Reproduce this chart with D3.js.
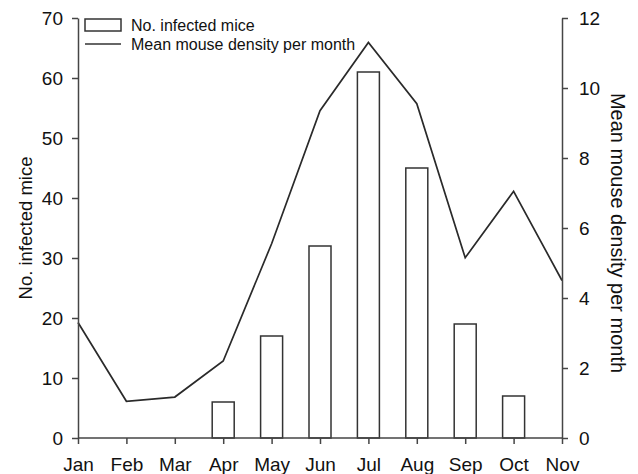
<!DOCTYPE html>
<html>
<head>
<meta charset="utf-8">
<script src="https://cdn.jsdelivr.net/npm/d3@7"></script>
<style>
  html, body { margin: 0; padding: 0; background: #fff; }
  svg { display: block; font-family: "Liberation Sans", Arial, sans-serif; }
</style>
</head>
<body>
<svg id="chart" width="638" height="474"></svg>
<script>
// Monthly data
const months = ["Jan", "Feb", "Mar", "Apr", "May", "Jun", "Jul", "Aug", "Sep", "Oct", "Nov"];
const infectedMice = [0, 0, 0, 6, 17, 32, 61, 45, 19, 7, 0];
const meanDensity = [3.3, 1.05, 1.17, 2.2, 5.55, 9.35, 11.3, 9.55, 5.15, 7.05, 4.5];
const leftTicks = [0, 10, 20, 30, 40, 50, 60, 70];
const rightTicks = [0, 2, 4, 6, 8, 10, 12];

const svg = d3.select("#chart");
const margin = { left: 78, right: 638 - 562, top: 18, bottom: 474 - 438 };
const width = 638 - margin.left - margin.right;
const height = 474 - margin.top - margin.bottom;
const axisColor = "#454545";
const font = "'Liberation Sans', Arial, sans-serif";

const g = svg.append("g").attr("transform", `translate(${margin.left},${margin.top})`);

const x = d3.scalePoint().domain(months).range([0, width]);
const yLeft = d3.scaleLinear().domain([0, 70]).range([height, 0]);
const yRight = d3.scaleLinear().domain([0, 12]).range([height, 0]);

// Bars: infected mice
const barW = 22;
const barData = months.map((m, i) => ({ m, v: infectedMice[i] })).filter(d => d.v > 0);
g.selectAll("rect.bar").data(barData).enter().append("rect")
  .attr("class", "bar")
  .attr("x", d => x(d.m) - barW / 2)
  .attr("y", d => yLeft(d.v))
  .attr("width", barW)
  .attr("height", d => yLeft(0) - yLeft(d.v))
  .attr("fill", "#fff")
  .attr("stroke", "#333")
  .attr("stroke-width", 1.5);

// Line: mean density
const line = d3.line().x((d, i) => x(months[i])).y(d => yRight(d));
g.append("path").datum(meanDensity)
  .attr("d", line)
  .attr("fill", "none")
  .attr("stroke", "#2a2a2a")
  .attr("stroke-width", 1.7)
  .attr("stroke-linejoin", "miter");

function styleAxis(sel) {
  sel.selectAll("path.domain").attr("stroke", axisColor).attr("stroke-width", 1.5);
  sel.selectAll(".tick line").attr("stroke", axisColor).attr("stroke-width", 1.5);
  sel.selectAll(".tick text").attr("fill", "#111")
    .attr("font-size", 19).attr("font-family", font)
    .style("font-size", "19px").style("font-family", font);
}

// Left axis
const axL = g.append("g")
  .call(d3.axisLeft(yLeft).tickValues(leftTicks).tickSize(6).tickSizeOuter(0).tickPadding(9));
styleAxis(axL);

// Right axis
const axR = g.append("g").attr("transform", `translate(${width},0)`)
  .call(d3.axisRight(yRight).tickValues(rightTicks).tickSize(6).tickSizeOuter(0).tickPadding(11));
styleAxis(axR);

// Bottom axis
const axB = g.append("g").attr("transform", `translate(0,${height})`)
  .call(d3.axisBottom(x).tickSize(6).tickSizeOuter(0).tickPadding(14));
styleAxis(axB);
axB.select("path.domain").attr("d", `M0,0H${width}`);

// Axis titles
svg.append("text")
  .attr("transform", `translate(32,${margin.top + height / 2}) rotate(-90)`)
  .attr("text-anchor", "middle")
  .style("font-size", "18.5px").attr("fill", "#111")
  .text("No. infected mice");

svg.append("text")
  .attr("transform", `translate(611,233) rotate(90)`)
  .attr("text-anchor", "middle")
  .style("font-size", "20px").attr("fill", "#111")
  .text("Mean mouse density per month");

// Legend
const lg = svg.append("g").attr("transform", "translate(85,19)");
lg.append("rect").attr("x", 0).attr("y", 0).attr("width", 36).attr("height", 12)
  .attr("fill", "#fff").attr("stroke", "#333").attr("stroke-width", 1.5);
lg.append("text").attr("x", 46).attr("y", 12).style("font-size", "16px").attr("fill", "#111")
  .text("No. infected mice");
lg.append("line").attr("x1", 0).attr("x2", 36).attr("y1", 25).attr("y2", 25)
  .attr("stroke", "#333").attr("stroke-width", 1.5);
lg.append("text").attr("x", 46).attr("y", 31).style("font-size", "16px").attr("fill", "#111")
  .text("Mean mouse density per month");
</script>
</body>
</html>
